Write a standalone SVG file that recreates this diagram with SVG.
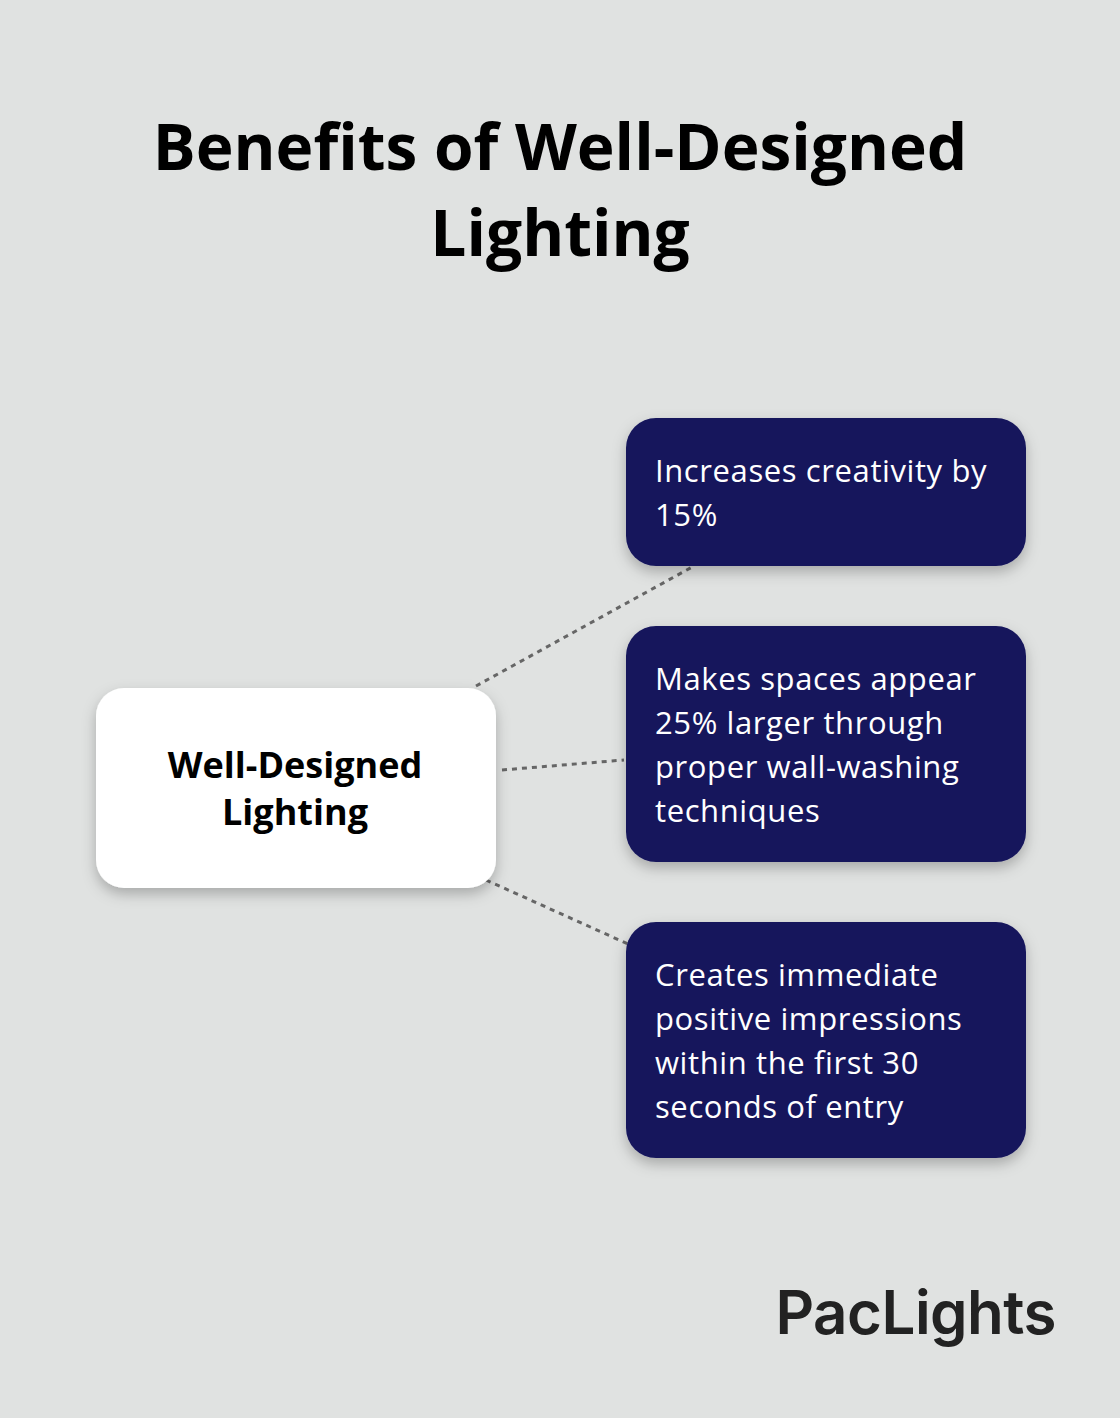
<svg xmlns="http://www.w3.org/2000/svg" width="1120" height="1418" viewBox="0 0 1120 1418">
<style>
.t{font-family:"Open Sans","Noto Sans",sans-serif}
.b{fill:#16175c;filter:url(#sh)}
.w{fill:#fff;font-size:31px;letter-spacing:0.6px}
.c{stroke:#666;stroke-width:3;stroke-dasharray:5 5;fill:none}
</style>
<defs><filter id="sh" x="-20%" y="-20%" width="140%" height="150%"><feDropShadow dx="0" dy="6" stdDeviation="7" flood-color="#000" flood-opacity="0.25"/></filter></defs>
<rect width="1120" height="1418" fill="#e0e2e1"/>
<g id="title" class="t" font-weight="700" font-size="64" text-anchor="middle" fill="#000">
<text x="560" y="170">Benefits of Well-Designed</text>
<text x="560" y="256">Lighting</text>
</g>
<g id="connectors">
<path class="c" d="M476 686L694 566"/>
<path class="c" d="M502 770L624 760"/>
<path class="c" d="M486 880L628 944"/>
</g>
<g id="center">
<rect x="96" y="688" width="400" height="200" rx="28" fill="#fff" filter="url(#sh)"/>
<text class="t" font-weight="700" font-size="36" text-anchor="middle" x="295" y="778">Well-Designed</text>
<text class="t" font-weight="700" font-size="36" text-anchor="middle" x="295" y="825">Lighting</text>
</g>
<g id="n1"><rect class="b" x="626" y="418" width="400" height="148" rx="30"/>
<text class="t w" x="655" y="482">Increases creativity by</text><text class="t w" x="655" y="526">15%</text></g>
<g id="n2"><rect class="b" x="626" y="626" width="400" height="236" rx="30"/>
<text class="t w" x="655" y="690">Makes spaces appear</text><text class="t w" x="655" y="734">25% larger through</text><text class="t w" x="655" y="778">proper wall-washing</text><text class="t w" x="655" y="822">techniques</text></g>
<g id="n3"><rect class="b" x="626" y="922" width="400" height="236" rx="30"/>
<text class="t w" x="655" y="986">Creates immediate</text><text class="t w" x="655" y="1030">positive impressions</text><text class="t w" x="655" y="1074">within the first 30</text><text class="t w" x="655" y="1118">seconds of entry</text></g>
<g id="logo"><text x="1056" y="1334" text-anchor="end" font-family="Inter,sans-serif" font-weight="600" font-size="60" letter-spacing="-0.5" fill="#222">PacLights</text></g>
</svg>
